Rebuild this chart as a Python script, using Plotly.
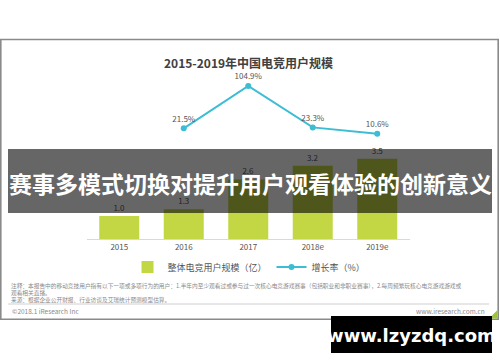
import plotly.graph_objects as go

# ---- data ----
years = ["2015", "2016", "2017", "2018e", "2019e"]
users = [1.0, 1.3, 2.6, 3.2, 3.5]                 # 整体电竞用户规模（亿）
growth_years = ["2016", "2017", "2018e", "2019e"]
growth = [21.5, 104.9, 23.3, 10.6]                # 增长率（%）
bar_labels = ["1.0", "1.3", "2.6", "3.2", "3.5"]
growth_labels = ["21.5%", "104.9%", "23.3%", "10.6%"]

title_text = "2015-2019年中国电竞用户规模"
banner_text = "赛事多模式切换对提升用户观看体验的创新意义"
note1 = "注释：本报告中的移动竞技用户指有以下一项或多项行为的用户：1.半年内至少观看过或参与过一次核心电竞游戏赛事（包括职业和非职业赛事），2.每周频繁玩核心电竞游戏游戏或"
note2 = "观看相关直播。"
note3 = "来源：根据企业公开财报、行业访谈及艾瑞统计预测模型估算。"
copyright_text = "©2018.1 iResearch Inc"
site_text = "www.iresearch.com.cn"
watermark_text = "www.lzyzdq.com"

W, H = 500, 362
FONT = "Noto Sans CJK SC"


def X(p):
    return p / W


def Y(p):
    return (H - p) / H


BAR_COLOR = "#c3d744"
LINE_COLOR = "#3cbdd4"

fig = go.Figure()
fig.add_trace(go.Bar(
    x=years, y=users, name="整体电竞用户规模（亿）",
    marker=dict(color=BAR_COLOR, line=dict(width=0)),
    width=0.62,
    text=bar_labels, textposition="outside",
    textfont=dict(size=8, color="#555555", family=FONT),
    cliponaxis=False,
))
fig.add_trace(go.Scatter(
    x=growth_years, y=growth, name="增长率（%）", yaxis="y2",
    mode="lines+markers+text",
    line=dict(color=LINE_COLOR, width=2),
    marker=dict(color=LINE_COLOR, size=6),
    text=growth_labels, textposition="top center",
    textfont=dict(size=8, color="#555555", family=FONT),
    cliponaxis=False,
))

y_bottom_px, y_top_px = 239, 60
px_per_unit = 22.9
y_range_top = (y_bottom_px - y_top_px) / px_per_unit
zero2_px = 139.2
px_per_pct = 0.5072
y2_lo = -(y_bottom_px - zero2_px) / px_per_pct
y2_hi = (zero2_px - y_top_px) / px_per_pct

shapes = [
    # chart frame
    dict(type="rect", xref="paper", yref="paper",
         x0=X(0.8), x1=X(498.2), y0=Y(39.5), y1=Y(319.2),
         line=dict(color="#8a8a8a", width=1.6), fillcolor="rgba(0,0,0,0)", layer="below"),
    # footer separator
    dict(type="line", xref="paper", yref="paper",
         x0=X(8), x1=X(489), y0=Y(304), y1=Y(304),
         line=dict(color="#d0d0d0", width=1)),
    # corner accent
    dict(type="path", xref="paper", yref="paper",
         path=f"M {X(489)},{Y(318.5)} L {X(497.5)},{Y(318.5)} L {X(497.5)},{Y(310)} Z",
         fillcolor="#9cc43a", line=dict(width=0)),
    # banner overlay
    dict(type="rect", xref="paper", yref="paper",
         x0=X(8), x1=X(492), y0=Y(149), y1=Y(213),
         fillcolor="rgba(0,0,0,0.6)", line=dict(width=0), layer="above"),
    # watermark box
    dict(type="rect", xref="paper", yref="paper",
         x0=X(331), x1=X(492), y0=Y(316), y1=Y(353),
         fillcolor="#000000", line=dict(width=0), layer="above"),
]

annotations = [
    dict(text=f"<b>{title_text}</b>", x=X(248), y=Y(62), xref="paper", yref="paper",
         showarrow=False, font=dict(size=12, color="#404040", family=FONT),
         xanchor="center", yanchor="middle"),
    dict(text=note1, x=X(9), y=Y(285), xref="paper", yref="paper", showarrow=False,
         font=dict(size=5.7, color="#8a8a8a", family=FONT), xanchor="left", yanchor="middle"),
    dict(text=note2, x=X(9), y=Y(292), xref="paper", yref="paper", showarrow=False,
         font=dict(size=5.7, color="#8a8a8a", family=FONT), xanchor="left", yanchor="middle"),
    dict(text=note3, x=X(9), y=Y(299), xref="paper", yref="paper", showarrow=False,
         font=dict(size=5.7, color="#8a8a8a", family=FONT), xanchor="left", yanchor="middle"),
    dict(text=copyright_text, x=X(10), y=Y(311), xref="paper", yref="paper", showarrow=False,
         font=dict(size=6.5, color="#8a8a8a", family=FONT), xanchor="left", yanchor="middle"),
    dict(text=site_text, x=X(487), y=Y(311), xref="paper", yref="paper", showarrow=False,
         font=dict(size=6.5, color="#8a8a8a", family=FONT), xanchor="right", yanchor="middle"),
    dict(text=f"<b>{banner_text}</b>", x=X(250), y=Y(183), xref="paper", yref="paper",
         showarrow=False, font=dict(size=23, color="#ffffff", family=FONT),
         xanchor="center", yanchor="middle"),
    dict(text=f"<b>{watermark_text}</b>", x=X(411), y=Y(335), xref="paper", yref="paper",
         showarrow=False, font=dict(size=18, color="#ffffff", family="DejaVu Sans"),
         xanchor="center", yanchor="middle"),
]

fig.update_layout(
    width=W, height=H,
    margin=dict(l=0, r=0, t=0, b=0, autoexpand=False),
    paper_bgcolor="#ffffff", plot_bgcolor="#ffffff",
    font=dict(family=FONT, color="#555555"),
    showlegend=True,
    legend=dict(orientation="h", x=X(249), xanchor="center", y=Y(267), yanchor="middle",
                font=dict(size=9, color="#555555", family=FONT),
                bgcolor="rgba(0,0,0,0)", itemwidth=30),
    xaxis=dict(domain=[X(87), X(409.5)], type="category", range=[-0.5, 4.5],
               showline=True, linecolor="#d9d9d9", linewidth=1,
               showgrid=False, zeroline=False, ticks="",
               tickfont=dict(size=8, color="#555555", family=FONT), fixedrange=True,
               automargin=False),
    yaxis=dict(domain=[Y(y_bottom_px), Y(y_top_px)], range=[0, y_range_top],
               visible=False, showgrid=False, zeroline=False, fixedrange=True),
    yaxis2=dict(domain=[Y(y_bottom_px), Y(y_top_px)], range=[y2_lo, y2_hi], overlaying="y",
                visible=False, showgrid=False, zeroline=False, fixedrange=True),
    shapes=shapes,
    annotations=annotations,
    bargap=0.38,
)

fig.write_html(
    "out.html",
    config={"displayModeBar": False},
    post_script="document.body.style.margin='0px';document.body.style.overflow='hidden';",
)
